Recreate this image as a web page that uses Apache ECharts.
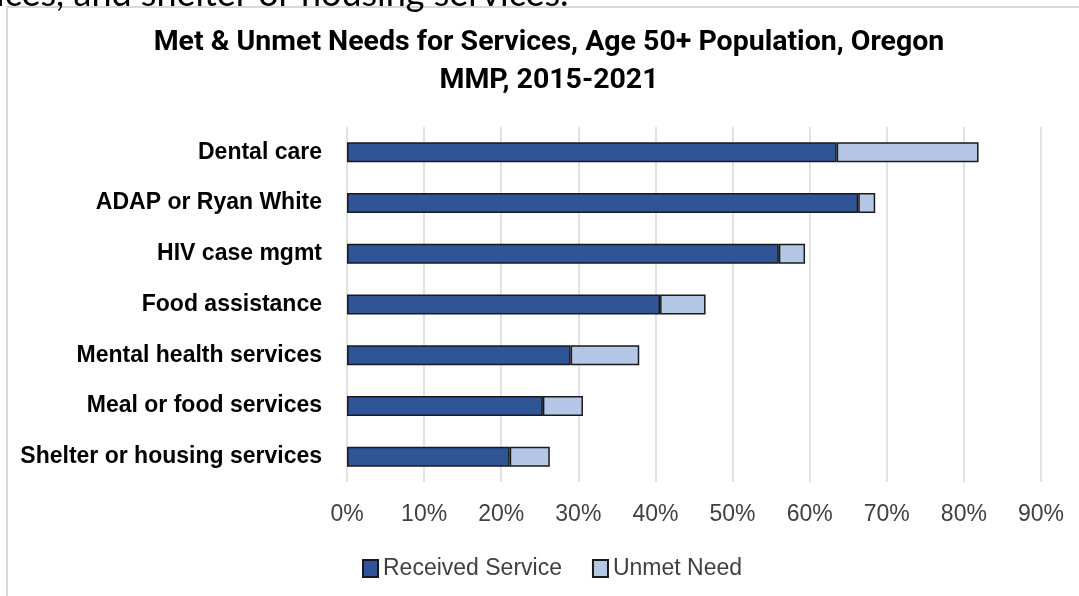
<!DOCTYPE html>
<html>
<head>
<meta charset="utf-8">
<script src="https://cdn.jsdelivr.net/npm/echarts@6/dist/echarts.min.js"></script>
<style>
  html, body { margin: 0; padding: 0; background: #fff; }
  #chart { width: 1079px; height: 596px; }
</style>
</head>
<body>
<div id="chart"></div>
<script>
const categories = [
  'Dental care',
  'ADAP or Ryan White',
  'HIV case mgmt',
  'Food assistance',
  'Mental health services',
  'Meal or food services',
  'Shelter or housing services'
];
const receivedService = [63.5, 66.3, 56.0, 40.6, 29.0, 25.4, 21.1];
const unmetNeed = [18.4, 2.2, 3.4, 5.9, 8.9, 5.2, 5.2];
const seriesNames = ['Received Service', 'Unmet Need'];
const titleText = 'Met & Unmet Needs for Services, Age 50+ Population, Oregon\nMMP, 2015-2021';
const topCutText = 'ices, and shelter or housing services.';

const chart = echarts.init(document.getElementById('chart'), null, { renderer: 'canvas' });
const condensed = "Roboto, 'Liberation Sans', sans-serif";
const sans = "'Liberation Sans', Arial, sans-serif";

chart.setOption({
  backgroundColor: '#ffffff',
  animation: false,
  title: {
    text: titleText,
    left: 544,
    top: 19,
    textAlign: 'center',
    textStyle: {
      fontFamily: condensed,
      fontWeight: 'bold',
      fontSize: 28.5,
      lineHeight: 38,
      color: '#000000'
    }
  },
  graphic: [
    {
      type: 'rect',
      z: -1,
      shape: { x: 7, y: 7, width: 1200, height: 800 },
      style: { fill: 'none', stroke: '#d9d9d9', lineWidth: 2 }
    },
    {
      type: 'text',
      x: -4,
      y: 12,
      style: {
        text: topCutText,
        font: "36px Lato, 'Open Sans', sans-serif",
        fill: '#000000',
        verticalAlign: 'bottom',
        align: 'left'
      }
    }
  ],
  legend: {
    data: seriesNames,
    left: 357,
    top: 552,
    icon: 'rect',
    itemWidth: 15,
    itemHeight: 17,
    itemGap: 30,
    textStyle: { fontFamily: sans, fontSize: 23, color: '#404040' }
  },
  grid: { left: 347, right: 38, top: 127, bottom: 114, containLabel: false },
  xAxis: {
    type: 'value',
    min: 0,
    max: 90,
    interval: 10,
    axisLine: { show: false },
    axisTick: { show: false },
    splitLine: { show: true, lineStyle: { color: '#d9d9d9', width: 1.5 } },
    axisLabel: {
      formatter: '{value}%',
      fontFamily: sans,
      fontSize: 23,
      color: '#404040',
      margin: 21
    }
  },
  yAxis: {
    type: 'category',
    data: categories,
    inverse: true,
    axisLine: { show: false },
    axisTick: { show: false },
    splitLine: { show: false },
    axisLabel: {
      fontFamily: sans,
      fontWeight: 'bold',
      fontSize: 23,
      color: '#000000',
      margin: 25
    }
  },
  series: [
    {
      name: seriesNames[0],
      type: 'bar',
      stack: 'total',
      barWidth: 20,
      data: receivedService,
      itemStyle: { color: '#2f5597', borderColor: '#1a1a1a', borderWidth: 1.5 }
    },
    {
      name: seriesNames[1],
      type: 'bar',
      stack: 'total',
      barWidth: 20,
      data: unmetNeed,
      itemStyle: { color: '#b4c7e7', borderColor: '#1a1a1a', borderWidth: 1.5 }
    }
  ]
});
</script>
</body>
</html>
